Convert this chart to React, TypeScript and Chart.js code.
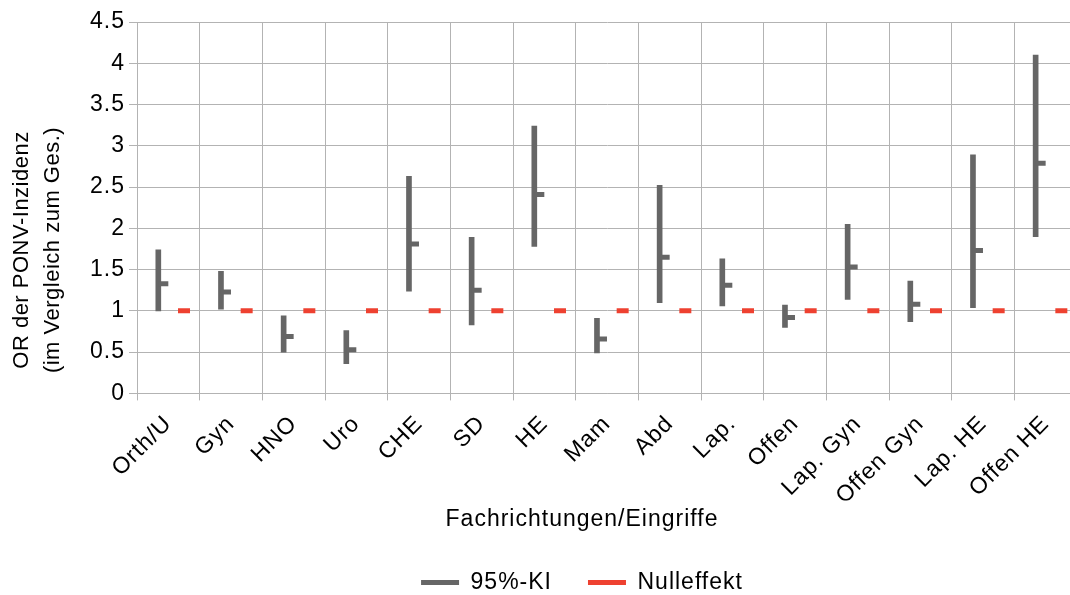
import React, { useEffect, useRef } from 'react';
import { Chart, registerables } from 'chart.js';

Chart.register(...registerables);

// ---- data ----
const categories = ['Orth/U', 'Gyn', 'HNO', 'Uro', 'CHE', 'SD', 'HE', 'Mam', 'Abd', 'Lap.', 'Offen', 'Lap. Gyn', 'Offen Gyn', 'Lap. HE', 'Offen HE'];
const ciLow = [1.0, 1.02, 0.5, 0.36, 1.24, 0.83, 1.78, 0.49, 1.1, 1.06, 0.8, 1.14, 0.87, 1.04, 1.9];
const ciHigh = [1.74, 1.48, 0.94, 0.76, 2.63, 1.89, 3.24, 0.91, 2.52, 1.63, 1.07, 2.05, 1.36, 2.89, 4.1];
const oddsRatio = [1.33, 1.23, 0.69, 0.53, 1.81, 1.25, 2.41, 0.66, 1.65, 1.31, 0.92, 1.53, 1.08, 1.73, 2.79];
const nullEffect = [1, 1, 1, 1, 1, 1, 1, 1, 1, 1, 1, 1, 1, 1, 1];
const yMin = 0;
const yMax = 4.5;
const yStep = 0.5;
const seriesLabels = ['95%-KI', 'Nulleffekt'];
const xTitle = 'Fachrichtungen/Eingriffe';
const yTitleLines = ['OR der PONV-Inzidenz', '(im Vergleich zum Ges.)'];

// ---- style ----
const FONT = '"Liberation Sans", Arial, sans-serif';
const GREY = '#666666';
const RED = '#ee4130';
const GRID = '#b3b3b3';
const CANVAS_W = 1164;
const CANVAS_H = 604;
const PLOT_LEFT = 137;
const PLOT_RIGHT = 1077;
const CI_POS = 0.34;
const TICK_SHIFT = 0.08;
const NULL_POS = 0.75;
const LETTER_SPACING = '1px';
const FONT_SIZE = 23;

const spacingPlugin = {
  id: 'letterSpacing',
  beforeUpdate(chart: any) {
    chart.ctx.letterSpacing = LETTER_SPACING;
  },
  beforeDraw(chart: any) {
    chart.ctx.letterSpacing = LETTER_SPACING;
  },
};

const yTitlePlugin = {
  id: 'yTitle',
  afterDraw(chart: any) {
    const { ctx, chartArea } = chart;
    ctx.save();
    ctx.letterSpacing = '0.5px';
    ctx.font = `22px ${FONT}`;
    ctx.fillStyle = '#000';
    ctx.textAlign = 'center';
    ctx.textBaseline = 'middle';
    const cy = chartArea.top + 228;
    yTitleLines.forEach((line, i) => {
      ctx.save();
      ctx.translate(22 + i * 31, cy);
      ctx.rotate(-Math.PI / 2);
      ctx.fillText(line, 0, 0);
      ctx.restore();
    });
    ctx.restore();
  },
};

export default function App() {
  const ref = useRef<HTMLCanvasElement>(null);

  useEffect(() => {
    if (!ref.current) return;
    const tickFont = { family: FONT, size: FONT_SIZE, weight: 'normal' as const };
    const chart = new Chart(ref.current, {
      type: 'bar',
      data: {
        datasets: [
          {
            type: 'bar',
            label: seriesLabels[0],
            data: categories.map((_, i) => ({ x: i + CI_POS, y: [ciLow[i], ciHigh[i]] })) as any,
            backgroundColor: GREY,
            borderWidth: 0,
            barThickness: 5,
            xAxisID: 'x',
            yAxisID: 'y',
            order: 2,
          },
          {
            type: 'scatter',
            label: 'OR',
            data: categories.map((_, i) => ({ x: i + CI_POS + TICK_SHIFT, y: oddsRatio[i] })),
            pointStyle: 'line',
            pointRadius: 5,
            pointHoverRadius: 5,
            pointBorderWidth: 5,
            borderColor: GREY,
            backgroundColor: GREY,
            xAxisID: 'x',
            yAxisID: 'y',
            order: 1,
          } as any,
          {
            type: 'scatter',
            label: seriesLabels[1],
            data: categories.map((_, i) => ({ x: i + NULL_POS, y: nullEffect[i] })),
            pointStyle: 'line',
            pointRadius: 6,
            pointHoverRadius: 6,
            pointBorderWidth: 5,
            borderColor: RED,
            backgroundColor: RED,
            xAxisID: 'x',
            yAxisID: 'y',
            order: 1,
          } as any,
        ],
      },
      options: {
        responsive: false,
        animation: false,
        devicePixelRatio: 1,
        layout: { padding: { top: 22, left: 0, right: 0, bottom: 0 } },
        scales: {
          x: {
            type: 'linear',
            position: 'bottom',
            min: 0,
            max: categories.length,
            offset: false,
            grid: { color: GRID, lineWidth: 1, tickLength: 7, offset: false },
            border: { color: GRID },
            ticks: { display: false, stepSize: 1 },
          },
          xl: {
            type: 'category',
            labels: categories,
            position: 'bottom',
            offset: true,
            grid: { display: false, offset: true },
            border: { display: false },
            ticks: {
              autoSkip: false,
              minRotation: 45,
              maxRotation: 45,
              padding: 2,
              color: '#000',
              font: tickFont,
            },
            afterFit: (s: any) => {
              s.height = 100;
            },
          } as any,
          y: {
            type: 'linear',
            position: 'left',
            min: yMin,
            max: yMax,
            grid: { color: GRID, lineWidth: 1, tickLength: 8 },
            border: { color: GRID },
            ticks: {
              stepSize: yStep,
              padding: 4,
              color: '#000',
              font: tickFont,
              callback: (v: any) => String(v),
            },
            afterFit: (s: any) => {
              s.width = PLOT_LEFT;
            },
          },
          yr: {
            type: 'linear',
            position: 'right',
            display: true,
            grid: { display: false },
            border: { display: false },
            ticks: { display: false },
            afterFit: (s: any) => {
              s.width = CANVAS_W - PLOT_RIGHT;
            },
          },
        },
        plugins: {
          tooltip: { enabled: false },
          title: {
            display: true,
            text: xTitle,
            position: 'bottom',
            weight: 500,
            color: '#000',
            font: { family: FONT, size: FONT_SIZE, weight: 'normal' },
            padding: { top: 5, bottom: 2 },
          },
          legend: {
            display: true,
            position: 'bottom',
            labels: {
              color: '#000',
              font: { family: FONT, size: FONT_SIZE },
              boxWidth: 38,
              boxHeight: 5,
              padding: 36,
              generateLabels: () => [
                { text: seriesLabels[0], fillStyle: GREY, strokeStyle: GREY, lineWidth: 0, hidden: false, datasetIndex: 0 },
                { text: seriesLabels[1], fillStyle: RED, strokeStyle: RED, lineWidth: 0, hidden: false, datasetIndex: 2 },
              ] as any,
            },
          },
        },
      },
      plugins: [spacingPlugin, yTitlePlugin],
    });
    return () => chart.destroy();
  }, []);

  return (
    <div style={{ position: 'fixed', left: 0, top: 0, width: 1070, height: 595, overflow: 'hidden', background: '#fff' }}>
      <canvas ref={ref} width={CANVAS_W} height={CANVAS_H} style={{ display: 'block' }} />
    </div>
  );
}
